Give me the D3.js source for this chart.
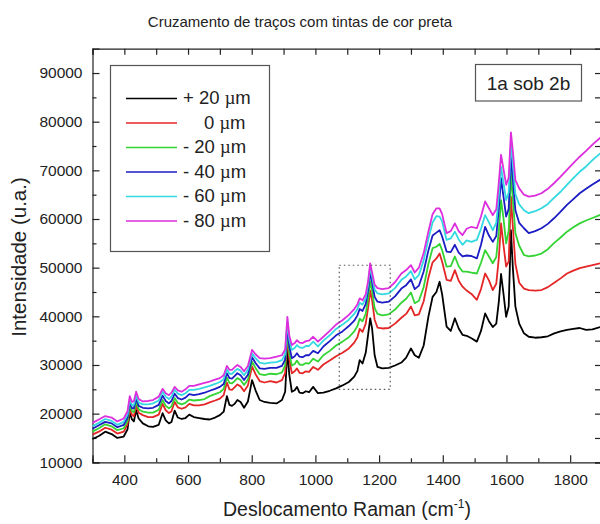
<!DOCTYPE html>
<html>
<head>
<meta charset="utf-8">
<script src="https://cdn.jsdelivr.net/npm/d3@7"></script>
<style>
  body { margin: 0; background: #fff; }
  svg { display: block; font-family: Arial, "Liberation Sans", sans-serif; }
</style>
</head>
<body>
<div id="chart"></div>
<script>
// Raman spectra, crossing of black ink strokes (1a under 2b)
const wavenumbers = [300, 320, 340, 360, 378, 398, 410, 417, 424, 430, 437, 445, 458, 475, 490, 508, 520, 530, 540, 548,
  558, 568, 580, 592, 604, 618, 635, 652, 668, 685, 700, 712, 722, 730, 738, 746, 755, 765, 776, 788,
  801, 812, 825, 840, 858, 878, 895, 905, 912, 918, 926, 935, 942, 950, 960, 970, 980, 993, 1008, 1025,
  1045, 1065, 1085, 1105, 1122, 1132, 1139, 1148, 1158, 1166, 1172, 1178, 1186, 1195, 1210, 1230, 1250, 1270, 1285, 1300,
  1312, 1325, 1340, 1355, 1368, 1380, 1390, 1398, 1412, 1425, 1438, 1450, 1462, 1475, 1490, 1507, 1520, 1533, 1545, 1557,
  1568, 1576, 1583, 1590, 1599, 1607, 1614, 1620, 1628, 1640, 1655, 1670, 1690, 1710, 1730, 1750, 1770, 1790, 1810, 1830,
  1850, 1870, 1900];

const plus20 = [14800, 15400, 16300, 15800, 15000, 15300, 16800, 20200, 18800, 18400, 20700, 19000, 18000, 17400, 17300, 17700, 20100, 18600, 18000, 18300,
  20600, 19200, 18900, 19100, 19800, 19300, 19100, 18900, 18800, 19200, 19700, 20400, 23600, 21800, 21600, 22000, 22800, 22400, 21200, 22500,
  26900, 24800, 22800, 22400, 22200, 22100, 22800, 24500, 33100, 28000, 24500, 24800, 25500, 24300, 24200, 24600, 24400, 25500, 24200, 24300,
  24700, 25200, 25800, 26500, 27600, 28800, 31000, 30300, 32500, 36500, 39600, 37500, 32000, 29600, 29300, 29400, 29900, 30500, 31500, 33400,
  32000, 31500, 34000, 40000, 44000, 45000, 47100, 44500, 37900, 37000, 39600, 37500, 36200, 36000, 35500, 34800, 37000, 40600, 39000, 37800,
  38500, 43000, 48700, 45000, 39900, 42000, 57700, 50000, 42000, 38500, 36500, 35800, 35600, 35700, 35900, 36500, 36900, 37200, 37400, 37600,
  37200, 37300, 37900];

const zero = [15700, 16300, 17100, 16700, 15900, 16300, 17800, 21100, 19700, 19500, 21700, 20200, 19700, 19300, 19300, 19800, 22000, 20700, 20100, 20500,
  22400, 21300, 21000, 21300, 22000, 21700, 21700, 21900, 22300, 22700, 23100, 23800, 26400, 25000, 24900, 25400, 26000, 25600, 24600, 25800,
  29700, 28100, 26700, 26400, 26700, 26400, 26900, 28400, 35800, 31200, 28300, 28700, 29300, 28400, 28300, 28700, 28600, 29600, 29000, 30100,
  30900, 31800, 32500, 33400, 34600, 35700, 37400, 36800, 38500, 42000, 45300, 43300, 39300, 37700, 37500, 37600, 38500, 39700, 40500, 42000,
  40200, 40400, 43100, 48000, 51100, 51900, 52900, 51200, 47500, 47300, 49500, 47300, 46100, 45300, 44600, 43400, 45600, 48800, 47400, 45400,
  46700, 52000, 59100, 55000, 50200, 51300, 64600, 58400, 50800, 46900, 45700, 45400, 45300, 45400, 46000, 46900, 47800, 48800, 49400, 49900,
  50200, 50500, 51000];

const minus20 = [16300, 17000, 17800, 17400, 16600, 17000, 18500, 21800, 20500, 20300, 22400, 20900, 20400, 20200, 20200, 20800, 22800, 21600, 21100, 21500,
  23200, 22200, 21900, 22200, 22900, 22700, 22800, 23000, 23600, 24000, 24400, 25100, 27400, 26300, 26200, 26700, 27300, 26900, 25900, 27000,
  30700, 29400, 28100, 27900, 28200, 28100, 28500, 29900, 36900, 32500, 29900, 30200, 30900, 30100, 30000, 30400, 30300, 31300, 30700, 32000,
  32900, 34000, 34800, 35700, 36900, 38000, 39500, 39000, 40500, 43900, 47200, 45200, 41700, 40500, 40200, 40400, 41400, 42800, 43600, 44900,
  42700, 43200, 46000, 50800, 54000, 54300, 54900, 53600, 50200, 50300, 52300, 50300, 49200, 49200, 49000, 48800, 51000, 53600, 52300, 50900,
  52200, 57500, 63900, 60500, 55000, 57600, 69400, 64000, 57100, 54500, 52600, 52300, 52500, 52900, 53800, 55100, 56200, 57400, 58300, 59100,
  59700, 60200, 61000];

const minus40 = [16900, 17600, 18300, 18000, 17200, 17700, 19200, 22400, 21100, 21100, 23100, 21600, 21200, 21100, 21200, 21800, 23700, 22600, 22100, 22600,
  24100, 23200, 22900, 23300, 24000, 23800, 24000, 24300, 24700, 25100, 25500, 26100, 28300, 27300, 27200, 27700, 28300, 27900, 26900, 28000,
  31600, 30400, 29300, 29200, 29400, 29400, 29800, 31100, 38000, 33800, 31400, 31800, 32400, 31700, 31600, 32000, 32000, 32900, 32400, 33800,
  34900, 36100, 36900, 38000, 39100, 40200, 41500, 41100, 42500, 45600, 49000, 47000, 44000, 43000, 42800, 43000, 44100, 45700, 46400, 47600,
  45600, 46300, 49200, 53600, 56600, 57200, 57700, 56400, 53300, 53200, 54700, 53100, 52300, 52500, 52400, 51900, 54700, 58400, 56600, 55300,
  56500, 62100, 68400, 64900, 60500, 62100, 72800, 68200, 61800, 59200, 58100, 57100, 57500, 58100, 59000, 60200, 61500, 62900, 64100, 65300,
  66200, 67100, 68300];

const minus60 = [17400, 18100, 18900, 18500, 17700, 18300, 19800, 22900, 21700, 21800, 23700, 22300, 21900, 21900, 22100, 22700, 24500, 23500, 23000, 23500,
  24900, 24100, 23800, 24200, 24900, 24900, 25100, 25400, 25700, 26100, 26500, 27100, 29100, 28200, 28200, 28700, 29200, 28800, 27900, 29000,
  32400, 31400, 30500, 30300, 30500, 30600, 31000, 32200, 38900, 35200, 33100, 33500, 34100, 33600, 33500, 33900, 33900, 34800, 33800, 35000,
  36100, 37400, 38300, 39300, 40500, 41500, 42800, 42400, 43700, 46700, 50100, 48200, 45500, 44700, 44500, 44700, 45800, 47500, 48200, 49300,
  47600, 48500, 51500, 56000, 59300, 60600, 60500, 59500, 55700, 56000, 57400, 55800, 54700, 55600, 55300, 55700, 58000, 60800, 59300, 57700,
  59200, 64800, 70700, 67700, 63900, 65500, 75600, 71400, 65100, 63000, 61800, 61200, 61600, 62200, 63100, 64400, 65600, 67000, 68400, 69700,
  70800, 72100, 73800];

const minus80 = [18100, 18800, 19500, 19200, 18400, 19000, 20500, 23600, 22400, 22600, 24500, 23000, 22500, 22600, 22800, 23500, 25100, 24200, 23800, 24300,
  25500, 24800, 24500, 25000, 25700, 25700, 26000, 26300, 26600, 27000, 27300, 27900, 29800, 29000, 29000, 29500, 30000, 29600, 28700, 29800,
  33100, 32200, 31400, 31300, 31400, 31700, 32000, 33200, 39900, 36000, 34100, 34500, 35100, 34600, 34500, 34900, 35000, 35800, 34800, 35800,
  37000, 38300, 39200, 40300, 41500, 42500, 43700, 43300, 44500, 47500, 50900, 49000, 46500, 45800, 45600, 45800, 47000, 48800, 49500, 50500,
  49000, 50000, 53000, 57500, 61000, 62200, 62200, 61000, 57100, 57500, 59100, 57500, 56700, 58000, 58400, 58100, 60500, 63600, 62200, 60800,
  62000, 67500, 73200, 70500, 67000, 68500, 77800, 74000, 68000, 66300, 65000, 64600, 64800, 65300, 66200, 67400, 68700, 70100, 71500, 72800,
  74000, 75300, 77000];

const seriesSigns = ['+ 20', '0', '- 20', '- 40', '- 60', '- 80'];
const seriesColors = ['#000000', '#e42626', '#33d433', '#1c1cc4', '#33d9e0', '#dd2edd'];
const xMajorTicks = [400, 600, 800, 1000, 1200, 1400, 1600, 1800];
const xMinorTicks = [300, 500, 700, 900, 1100, 1300, 1500, 1700, 1900];
const yMajorTicks = [10000, 20000, 30000, 40000, 50000, 60000, 70000, 80000, 90000];
const yMinorTicks = [15000, 25000, 35000, 45000, 55000, 65000, 75000, 85000];
const dashedBox = { x: [1075, 1235], y: [25000, 50500] };

const width = 600;
const height = 524;
const margin = { top: 48.7, right: -2, bottom: 61.7, left: 92.5 };

const svg = d3.select('#chart')
  .append('svg')
  .attr('width', width)
  .attr('height', height);

const x = d3.scaleLinear()
  .domain([300, 1900])
  .range([margin.left, width - margin.right]);

const y = d3.scaleLinear()
  .domain([10000, 95000])
  .range([height - margin.bottom, margin.top]);

const series = [plus20, zero, minus20, minus40, minus60, minus80].map((values, i) => ({
  key: seriesSigns[i],
  color: seriesColors[i],
  points: wavenumbers.map((w, j) => [w, values[j]]),
}));

// axes, all ticks pointing inside the frame
const tickFont = (g) => g.selectAll('text')
  .attr('font-size', 15.5)
  .attr('fill', '#222');

svg.append('g')
  .attr('transform', `translate(0,${y.range()[0]})`)
  .call(d3.axisBottom(x).tickValues(xMajorTicks).tickSize(-7).tickPadding(12).tickFormat(d3.format('d')))
  .call(tickFont);

svg.append('g')
  .attr('transform', `translate(0,${y.range()[0]})`)
  .call(d3.axisBottom(x).tickValues(xMinorTicks).tickSize(-4).tickFormat(''))
  .call(g => g.select('.domain').remove());

svg.append('g')
  .attr('transform', `translate(0,${y.range()[1]})`)
  .call(d3.axisTop(x).tickValues(xMajorTicks.concat(xMinorTicks)).tickSize(-6).tickFormat(''));

svg.append('g')
  .attr('transform', `translate(${x.range()[0]},0)`)
  .call(d3.axisLeft(y).tickValues(yMajorTicks).tickSize(-7).tickPadding(10).tickFormat(d3.format('d')))
  .call(tickFont);

svg.append('g')
  .attr('transform', `translate(${x.range()[0]},0)`)
  .call(d3.axisLeft(y).tickValues(yMinorTicks).tickSize(-4).tickFormat(''))
  .call(g => g.select('.domain').remove());

svg.append('g')
  .attr('transform', `translate(${x.range()[1]},0)`)
  .call(d3.axisRight(y).tickValues(yMajorTicks.concat(yMinorTicks)).tickSize(-7).tickFormat(''));

svg.selectAll('.domain, .tick line')
  .attr('stroke', '#222')
  .attr('stroke-width', 1.2);

// spectra
const line = d3.line()
  .x(d => x(d[0]))
  .y(d => y(d[1]));

svg.append('g')
  .selectAll('path')
  .data(series)
  .join('path')
  .attr('d', d => line(d.points))
  .attr('fill', 'none')
  .attr('stroke', d => d.color)
  .attr('stroke-width', 1.8)
  .attr('stroke-linejoin', 'round');

// dotted selection box
svg.append('rect')
  .attr('x', x(dashedBox.x[0]))
  .attr('y', y(dashedBox.y[1]))
  .attr('width', x(dashedBox.x[1]) - x(dashedBox.x[0]))
  .attr('height', y(dashedBox.y[0]) - y(dashedBox.y[1]))
  .attr('fill', 'none')
  .attr('stroke', '#555')
  .attr('stroke-width', 1.2)
  .attr('stroke-dasharray', '1.5,3');

// legend
const legend = svg.append('g');

legend.append('rect')
  .attr('x', 110.5)
  .attr('y', 65.5)
  .attr('width', 159)
  .attr('height', 186)
  .attr('fill', '#fff')
  .attr('stroke', '#555')
  .attr('stroke-width', 1.2);

const entry = legend.selectAll('g.entry')
  .data(series)
  .join('g')
  .attr('class', 'entry')
  .attr('transform', (d, i) => `translate(0,${98.5 + (i * 24.5)})`);

entry.append('line')
  .attr('x1', 126)
  .attr('x2', 177)
  .attr('stroke', d => d.color)
  .attr('stroke-width', 1.6);

const label = entry.append('text')
  .attr('x', d => (d.key === '0' ? 204 : 183))
  .attr('y', 5.5)
  .attr('font-size', 18.5)
  .attr('fill', '#222')
  .style('white-space', 'pre');

label.append('tspan').text(d => `${d.key} `);
label.append('tspan')
  .attr('font-family', '"Liberation Serif", "DejaVu Serif", serif')
  .text('\u00b5');
label.append('tspan').text('m');

// annotation
svg.append('rect')
  .attr('x', 475.5)
  .attr('y', 64.5)
  .attr('width', 106)
  .attr('height', 36.5)
  .attr('fill', '#fff')
  .attr('stroke', '#555')
  .attr('stroke-width', 1.2);

svg.append('text')
  .attr('x', 528.5)
  .attr('y', 89.5)
  .attr('text-anchor', 'middle')
  .attr('font-size', 19)
  .attr('fill', '#222')
  .text('1a sob 2b');

// titles
svg.append('text')
  .attr('x', 300)
  .attr('y', 27)
  .attr('text-anchor', 'middle')
  .attr('font-size', 15)
  .attr('fill', '#222')
  .text('Cruzamento de traços com tintas de cor preta');

const xLabel = svg.append('text')
  .attr('x', 347)
  .attr('y', 516)
  .attr('text-anchor', 'middle')
  .attr('font-size', 19.5)
  .attr('fill', '#222')
  .text('Deslocamento Raman (cm');
xLabel.append('tspan')
  .attr('dy', -8)
  .attr('font-size', 12)
  .text('-1');
xLabel.append('tspan')
  .attr('dy', 8)
  .text(')');

svg.append('text')
  .attr('transform', 'translate(26,257) rotate(-90)')
  .attr('text-anchor', 'middle')
  .attr('font-size', 20.5)
  .attr('fill', '#222')
  .text('Intensidade (u.a.)');
</script>
</body>
</html>
